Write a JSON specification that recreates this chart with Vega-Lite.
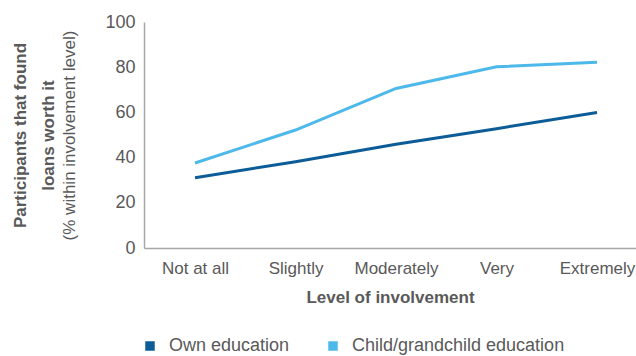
{
  "$schema": "https://vega.github.io/schema/vega-lite/v6.json",
  "width": 492,
  "height": 226,
  "autosize": "none",
  "padding": {"left": 144, "top": 22, "right": 0, "bottom": 108},
  "config": {
    "font": "Liberation Sans",
    "view": {"stroke": null},
    "axis": {"labelColor": "#595959", "titleColor": "#595959", "grid": false, "labelFont": "Liberation Sans", "titleFont": "Liberation Sans"},
    "legend": {"labelFont": "Liberation Sans", "labelColor": "#595959"}
  },
  "data": {"values": [
    {"level": "Not at all", "series": "Own education", "value": 31.1},
    {"level": "Slightly", "series": "Own education", "value": 38.2},
    {"level": "Moderately", "series": "Own education", "value": 45.9},
    {"level": "Very", "series": "Own education", "value": 52.8},
    {"level": "Extremely", "series": "Own education", "value": 60.0},
    {"level": "Not at all", "series": "Child/grandchild education", "value": 37.6},
    {"level": "Slightly", "series": "Child/grandchild education", "value": 52.2},
    {"level": "Moderately", "series": "Child/grandchild education", "value": 70.6},
    {"level": "Very", "series": "Child/grandchild education", "value": 80.2},
    {"level": "Extremely", "series": "Child/grandchild education", "value": 82.2}
  ]},
  "layer": [
    {
      "mark": {"type": "line", "strokeWidth": 3},
      "encoding": {
        "x": {
          "field": "level", "type": "ordinal",
          "sort": ["Not at all", "Slightly", "Moderately", "Very", "Extremely"],
          "scale": {"type": "point", "padding": 0.4478, "align": 0.567},
          "axis": {"title": "Level of involvement", "labelAngle": 0, "labelFontSize": 17, "titleFontSize": 17, "titleFontWeight": "bold", "ticks": false, "domainColor": "#a6a6a6", "domainWidth": 1.5, "labelPadding": 12, "titlePadding": 13, "labelLimit": 200}
        },
        "y": {
          "field": "value", "type": "quantitative",
          "scale": {"domain": [0, 100]},
          "axis": {"values": [0, 20, 40, 60, 80, 100], "title": "(% within involvement level)", "titleFontWeight": "normal", "titleFontSize": 17, "labelFontSize": 18, "ticks": false, "domainColor": "#a6a6a6", "domainWidth": 1.5, "labelPadding": 9, "titlePadding": 26}
        },
        "color": {
          "field": "series", "type": "nominal",
          "scale": {"domain": ["Own education", "Child/grandchild education"], "range": ["#0b5c97", "#4db8ea"]},
          "legend": {"title": null, "orient": "none", "direction": "horizontal", "legendX": -3, "legendY": 315, "symbolType": "square", "symbolSize": 90, "labelFontSize": 18, "labelLimit": 400, "columnPadding": 34, "labelOffset": 10,
            "encode": {"symbols": {"update": {"fill": {"scale": "color", "field": "value"}, "strokeWidth": {"value": 0}}}}}
        }
      }
    },
    {
      "mark": {"type": "line", "opacity": 0},
      "encoding": {
        "x": {"field": "level", "type": "ordinal", "sort": ["Not at all", "Slightly", "Moderately", "Very", "Extremely"], "scale": {"type": "point", "padding": 0.4478, "align": 0.567}},
        "y": {
          "field": "value", "type": "quantitative",
          "scale": {"domain": [0, 100]},
          "axis": {"orient": "left", "title": ["Participants that found", "loans worth it"], "titleFontWeight": "bold", "titleFontSize": 17, "titleLineHeight": 28, "labels": false, "ticks": false, "domain": false, "titlePadding": 0, "offset": 87}
        }
      }
    }
  ],
  "resolve": {"scale": {"y": "independent"}}
}
